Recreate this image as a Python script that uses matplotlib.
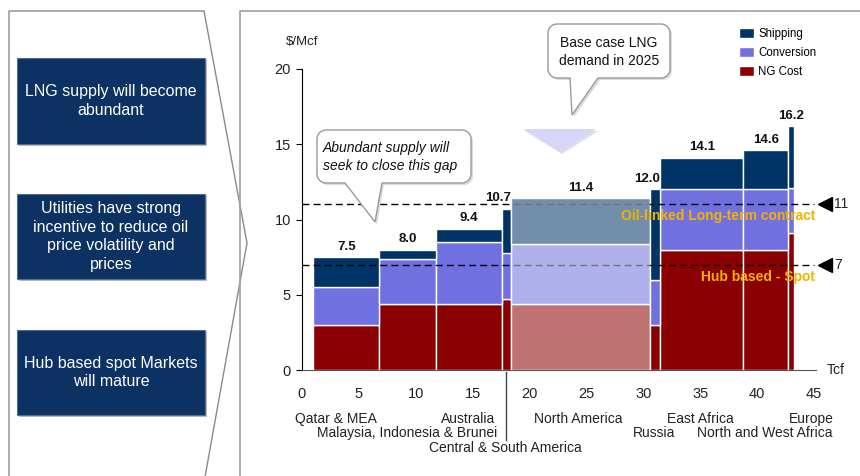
import numpy as np
import matplotlib
matplotlib.use("Agg")
import matplotlib.pyplot as plt
from matplotlib.patches import Polygon, Rectangle
from matplotlib.lines import Line2D

plt.rcParams['font.family'] = ['Liberation Sans', 'DejaVu Sans']

# supply curve data (Tcf on x, $/Mcf on y)
regions = ["Qatar & MEA", "Malaysia, Indonesia & Brunei", "Australia",
           "Central & South America", "North America", "Russia",
           "East Africa", "North and West Africa", "Europe"]
supply_start = 1.0
volumes = [5.8, 4.95, 5.8, 0.8, 12.25, 0.9, 7.3, 3.9, 0.5]
ng_cost = [3.0, 4.4, 4.4, 4.7, 4.4, 3.0, 8.0, 8.0, 9.1]
conversion = [2.5, 3.0, 4.1, 3.1, 4.0, 3.0, 4.0, 4.0, 3.0]
totals = [7.5, 8.0, 9.4, 10.7, 11.4, 12.0, 14.1, 14.6, 16.2]
price_levels = [11, 7]
price_names = ["Oil-linked Long-term contract", "Hub based - Spot"]
highlight = "North America"

# label layout
total_ha = ['center', 'center', 'center', 'right', 'center', 'right',
            'center', 'center', 'center']
region_label_x = [3.0, 9.2, 14.6, 17.9, 24.25, 30.9, 35.05, 40.7, 44.8]
region_label_row = [0, 1, 0, 2, 0, 1, 0, 1, 0]

SHIP = '#003366'
CONV = '#7070E0'
NG = '#8B0000'
ORANGE = '#F2B200'

ng_cost = np.array(ng_cost)
conversion = np.array(conversion)
totals = np.array(totals)
shipping = totals - ng_cost - conversion
lefts = supply_start + np.concatenate([[0], np.cumsum(volumes)[:-1]])
rights = lefts + np.array(volumes)

fig = plt.figure(figsize=(8.6, 4.76), dpi=100)
ax = fig.add_axes([302 / 860, 106 / 476, 512 / 860, 301 / 476])
ax.patch.set_visible(False)

kw = dict(align='edge', edgecolor='white', linewidth=1, zorder=3)
b_ng = ax.bar(lefts, ng_cost, volumes, color=NG, label='NG Cost', **kw)
b_cv = ax.bar(lefts, conversion, volumes, bottom=ng_cost, color=CONV,
              label='Conversion', **kw)
b_sh = ax.bar(lefts, shipping, volumes, bottom=ng_cost + conversion,
              color=SHIP, label='Shipping', **kw)

# price reference lines
for lvl, name in zip(price_levels, price_names):
    ax.plot([0, 45], [lvl, lvl], color='black', lw=1, dashes=(5, 3),
            zorder=4, clip_on=False)
    ax.plot([45.95], [lvl], marker='<', color='black', ms=10,
            clip_on=False, zorder=4)
    ax.text(46.8, lvl, str(lvl), ha='left', va='center', fontsize=10,
            color='#222222', clip_on=False)
    ax.text(45.1, lvl - 0.8, name, ha='right', va='center', fontsize=10,
            fontweight='bold', color=ORANGE, zorder=7)

# faded highlight over the base-case bar
i = regions.index(highlight)
ax.add_patch(Rectangle((lefts[i], 0), volumes[i], totals[i],
                       facecolor='white', edgecolor='none', alpha=0.45,
                       zorder=5))

# totals above bars
for j in range(len(regions)):
    x = (lefts[j] + rights[j]) / 2 if total_ha[j] == 'center' else rights[j]
    ax.text(x, totals[j] + 0.3, f"{totals[j]:.1f}", ha=total_ha[j],
            va='bottom', fontsize=9.5, fontweight='bold', color='#111111')

# region labels under the axis
row_y = [-0.163, -0.209, -0.259]
tr = ax.get_xaxis_transform()
for name, lx, row in zip(regions, region_label_x, region_label_row):
    ax.text(lx, row_y[row], name, transform=tr, ha='center', va='center',
            fontsize=10, color='#222222', clip_on=False)
ax.add_line(Line2D([17.9, 17.9], [-0.005, -0.233], transform=tr,
                   color='#444444', lw=1, clip_on=False))

ax.set_xlim(0, 45)
ax.set_ylim(0, 20)
ax.set_xticks(np.arange(0, 46, 5))
ax.set_yticks(np.arange(0, 21, 5))
for s in ['top', 'right']:
    ax.spines[s].set_visible(False)
ax.spines['left'].set_bounds(0, 20)
ax.spines['bottom'].set_bounds(0, 45.2)
ax.spines['bottom'].set_color('#555555')
ax.tick_params(axis='x', length=0, pad=12, labelsize=10.5, labelcolor='#222222')
ax.tick_params(axis='y', length=4, direction='out', pad=4, labelsize=10.5,
               labelcolor='#222222')

ax.legend(handles=[b_sh, b_cv, b_ng], loc='upper left', frameon=False,
          bbox_to_anchor=(733 / 860, 1 - 22 / 476),
          bbox_transform=fig.transFigure, fontsize=8.3, borderpad=0,
          handlelength=1.3, handleheight=0.9, handletextpad=0.4,
          labelspacing=0.62)

# overlay in pixel coordinates
ov = fig.add_axes([0, 0, 1, 1], zorder=10)
ov.set_xlim(0, 860)
ov.set_ylim(476, 0)
ov.axis('off')
ov.patch.set_visible(False)

ov.text(302, 42, "$/Mcf", ha='center', va='center', fontsize=9.5,
        color='#222222')
ov.text(827, 370, "Tcf", ha='left', va='center', fontsize=10, color='#222222')

# left panel chevron and chart frame
ov.add_patch(Polygon([(9, 477), (9, 11), (204, 11), (247, 243), (205, 477)],
                     closed=False, fill=False, edgecolor='#8a8a8a', lw=1))
ov.plot([240, 240, 860], [477, 11, 11], color='#a0a0a0', lw=1.2)

boxes = [(58, 86, "LNG supply will become\nabundant"),
         (194, 85, "Utilities have strong\nincentive to reduce oil\nprice volatility and\nprices"),
         (330, 85, "Hub based spot Markets\nwill mature")]
for y0, h, txt in boxes:
    ov.add_patch(Rectangle((19, y0 + 2), 188, h, facecolor='#7a7a7a',
                           edgecolor='none', alpha=0.5))
    ov.add_patch(Rectangle((17, y0), 188, h, facecolor='#0B3262',
                           edgecolor='#5a6e8a', lw=0.8))
    ov.text(111, y0 + h / 2, txt, ha='center', va='center', color='white',
            fontsize=11.5, linespacing=1.3)


def callout(x0, y0, x1, y1, r, t0, t1, tip):
    pts = []
    corners = [(x1 - r, y0 + r, -90, 0), (x1 - r, y1 - r, 0, 90),
               (x0 + r, y1 - r, 90, 180), (x0 + r, y0 + r, 180, 270)]
    for k, (cx, cy, a0, a1) in enumerate(corners):
        ang = np.radians(np.linspace(a0, a1, 8))
        pts += list(zip(cx + r * np.cos(ang), cy + r * np.sin(ang)))
        if k == 1:
            pts += [(t1, y1), tip, (t0, y1)]
    return pts


for x0, y0, x1, y1, t0, t1, tip in [
        (317, 130, 471, 183, 345, 382, (375, 222)),
        (548, 24, 670, 78, 570, 598, (572, 115))]:
    pts = callout(x0, y0, x1, y1, 9, t0, t1, tip)
    ov.add_patch(Polygon([(px + 2, py + 2) for px, py in pts],
                         facecolor='#999999', edgecolor='none', alpha=0.35))
    ov.add_patch(Polygon(pts, facecolor='white', edgecolor='#9a9a9a', lw=1))

ov.text(323, 157, "Abundant supply will\nseek to close this gap", ha='left',
        va='center', fontsize=10, style='italic', color='#111111',
        linespacing=1.35)
ov.text(609, 52, "Base case LNG\ndemand in 2025", ha='center', va='center',
        fontsize=10, color='#111111', linespacing=1.4)

# pointer to the highlighted demand block
ov.add_patch(Polygon([(525, 131), (598, 131), (562, 154)],
                     facecolor='#c8c8d8', edgecolor='none', alpha=0.6))
ov.add_patch(Polygon([(523, 129), (596, 129), (560, 152)],
                     facecolor='#D6D6F8', edgecolor='none'))

fig.savefig("out.png", dpi=100)
